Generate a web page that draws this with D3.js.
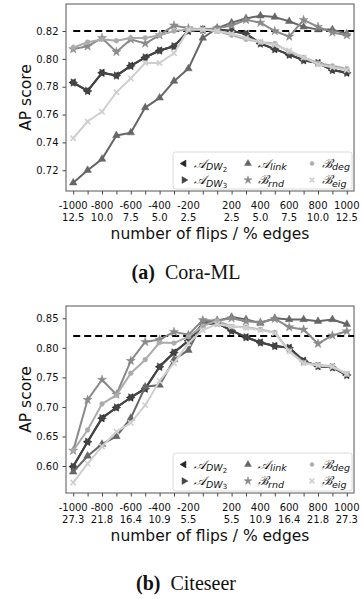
<!DOCTYPE html>
<html>
<head>
<meta charset="utf-8">
<script src="https://cdn.jsdelivr.net/npm/d3@7"></script>
<style>
body { margin: 0; background: #fff; }
text { font-family: "DejaVu Sans", sans-serif; fill: #111; }
</style>
</head>
<body>
<div id="chart-area"></div>
<script>
// x positions: number of flips (negative = removed, positive = added)
var flips = [-1000, -900, -800, -700, -600, -500, -400, -300, -200, -100,
             100, 200, 300, 400, 500, 600, 700, 800, 900, 1000];
var labelFlips = [-1000, -800, -600, -400, -200, 200, 400, 600, 800, 1000];
var coraPct = ["12.5", "10.0", "7.5", "5.0", "2.5", "2.5", "5.0", "7.5", "10.0", "12.5"];
var citePct = ["27.3", "21.8", "16.4", "10.9", "5.5", "5.5", "10.9", "16.4", "21.8", "27.3"];

var coraYTicks = [0.72, 0.74, 0.76, 0.78, 0.80, 0.82];
var citeYTicks = [0.60, 0.65, 0.70, 0.75, 0.80, 0.85];

// Cora-ML
var coraDW2  = [0.783, 0.777, 0.790, 0.788, 0.795, 0.801, 0.806, 0.809, 0.820, 0.821,
                0.821, 0.820, 0.818, 0.811, 0.807, 0.803, 0.799, 0.797, 0.792, 0.790];
var coraDW3  = [0.783, 0.777, 0.790, 0.788, 0.795, 0.801, 0.806, 0.809, 0.820, 0.821,
                0.821, 0.820, 0.818, 0.811, 0.807, 0.803, 0.799, 0.797, 0.792, 0.790];
var coraLink = [0.711, 0.720, 0.728, 0.745, 0.747, 0.765, 0.772, 0.784, 0.793, 0.815,
                0.822, 0.826, 0.829, 0.831, 0.830, 0.827, 0.823, 0.821, 0.821, 0.818];
var coraRnd  = [0.807, 0.809, 0.815, 0.805, 0.814, 0.811, 0.817, 0.824, 0.822, 0.821,
                0.822, 0.824, 0.828, 0.826, 0.820, 0.816, 0.828, 0.823, 0.819, 0.817];
var coraDeg  = [0.808, 0.812, 0.814, 0.813, 0.815, 0.815, 0.817, 0.820, 0.821, 0.821,
                0.820, 0.817, 0.814, 0.812, 0.811, 0.805, 0.801, 0.797, 0.795, 0.793];
var coraEig  = [0.743, 0.755, 0.762, 0.776, 0.786, 0.797, 0.797, 0.804, 0.821, 0.821,
                0.820, 0.818, 0.815, 0.812, 0.810, 0.806, 0.801, 0.796, 0.794, 0.792];

// Citeseer
var citeDW2  = [0.599, 0.641, 0.681, 0.699, 0.716, 0.731, 0.768, 0.792, 0.812, 0.840,
                0.842, 0.829, 0.818, 0.809, 0.803, 0.800, 0.778, 0.769, 0.767, 0.754];
var citeDW3  = [0.599, 0.641, 0.681, 0.699, 0.716, 0.731, 0.768, 0.792, 0.812, 0.840,
                0.842, 0.829, 0.818, 0.809, 0.803, 0.800, 0.778, 0.769, 0.767, 0.754];
var citeLink = [0.590, 0.617, 0.637, 0.650, 0.681, 0.734, 0.737, 0.780, 0.796, 0.843,
                0.846, 0.852, 0.848, 0.842, 0.850, 0.848, 0.848, 0.845, 0.848, 0.840];
var citeRnd  = [0.626, 0.712, 0.746, 0.721, 0.778, 0.810, 0.814, 0.827, 0.822, 0.847,
                0.846, 0.850, 0.845, 0.843, 0.849, 0.835, 0.831, 0.807, 0.821, 0.828];
var citeDeg  = [0.626, 0.661, 0.705, 0.720, 0.757, 0.780, 0.809, 0.808, 0.819, 0.837,
                0.846, 0.836, 0.835, 0.831, 0.826, 0.795, 0.775, 0.771, 0.769, 0.755];
var citeEig  = [0.572, 0.604, 0.633, 0.658, 0.673, 0.703, 0.744, 0.774, 0.808, 0.830,
                0.840, 0.836, 0.834, 0.830, 0.825, 0.794, 0.774, 0.770, 0.768, 0.756];

var baseline = 0.82;

var methods = [
    {key: "DW2",  letter: "\u{1D49C}", sub: "DW", sub2: "2", color: "#262626", marker: "left"},
    {key: "DW3",  letter: "\u{1D49C}", sub: "DW", sub2: "3", color: "#454545", marker: "right"},
    {key: "link", letter: "\u{1D49C}", sub: "link", color: "#666666", marker: "up"},
    {key: "rnd",  letter: "\u212C", sub: "rnd", color: "#8a8a8a", marker: "star"},
    {key: "deg",  letter: "\u212C", sub: "deg", color: "#ababab", marker: "circle"},
    {key: "eig",  letter: "\u212C", sub: "eig", color: "#cfcfcf", marker: "x"}
];

var panels = [
    {top: 4, bottom: 191, yDomain: [0.7051, 0.8394], yTicks: coraYTicks, pct: coraPct,
     series: [coraDW2, coraDW3, coraLink, coraRnd, coraDeg, coraEig],
     tag: "(a)", name: "Cora-ML", captionY: 278.5, legendTop: 152},
    {top: 306, bottom: 493, yDomain: [0.5543, 0.8708], yTicks: citeYTicks, pct: citePct,
     series: [citeDW2, citeDW3, citeLink, citeRnd, citeDeg, citeEig],
     tag: "(b)", name: "Citeseer", captionY: 589.5, legendTop: 453}
];

var left = 66, right = 354;
var width = 362, height = 599;

var svg = d3.select("#chart-area").append("svg")
    .attr("width", width)
    .attr("height", height);

function markerPath(type, size) {
    var sym = d3.symbol().size(size);
    if (type == "left" || type == "right" || type == "up") return sym.type(d3.symbolTriangle)();
    if (type == "star") return sym.type(d3.symbolStar)();
    if (type == "circle") return sym.type(d3.symbolCircle)();
    return sym.type(d3.symbolTimes)();
}
function markerRotate(type) {
    if (type == "left") return -90;
    if (type == "right") return 90;
    return 0;
}
function addMarker(g, m, cx, cy, size) {
    var p = g.append("path")
        .attr("d", markerPath(m.marker, size))
        .attr("transform", "translate(" + cx + "," + cy + ") rotate(" + markerRotate(m.marker) + ")");
    if (m.marker == "x") {
        p.attr("fill", "none").attr("stroke", m.color).attr("stroke-width", 1.6);
    } else {
        p.attr("fill", m.color).attr("stroke", m.color).attr("stroke-width", 0.5);
    }
}

panels.forEach(function(pn) {
    var x = d3.scalePoint()
        .domain(flips)
        .range([left, right])
        .padding(0.5);

    var y = d3.scaleLinear()
        .domain(pn.yDomain)
        .range([pn.bottom, pn.top]);

    var g = svg.append("g");

    // x axis: a tick at every point, labels on every second one
    var bottomAxis = d3.axisBottom(x).tickSize(3.5).tickFormat("");
    var xg = g.append("g")
        .attr("transform", "translate(0," + pn.bottom + ")")
        .call(bottomAxis);
    xg.select(".domain").remove();
    xg.selectAll(".tick line").attr("stroke", "#444");

    labelFlips.forEach(function(f, i) {
        var t = g.append("text")
            .attr("text-anchor", "middle")
            .attr("font-size", "10px")
            .attr("x", x(f));
        t.append("tspan").attr("x", x(f)).attr("y", pn.bottom + 17.5).text(f);
        t.append("tspan").attr("x", x(f)).attr("y", pn.bottom + 30).text(pn.pct[i]);
    });

    var leftAxis = d3.axisLeft(y)
        .tickValues(pn.yTicks)
        .tickSize(3.5)
        .tickFormat(d3.format(".2f"));
    var yg = g.append("g")
        .attr("transform", "translate(" + left + ",0)")
        .call(leftAxis);
    yg.select(".domain").remove();
    yg.selectAll(".tick line").attr("stroke", "#444");
    yg.selectAll("text")
        .attr("font-size", "10px")
        .attr("font-family", "DejaVu Sans")
        .attr("fill", "#111")
        .attr("dx", "-1px");

    // frame
    g.append("rect")
        .attr("x", left)
        .attr("y", pn.top)
        .attr("width", right - left)
        .attr("height", pn.bottom - pn.top)
        .attr("fill", "none")
        .attr("stroke", "#555")
        .attr("stroke-width", 1);

    // baseline dashed line
    g.append("line")
        .attr("x1", x(flips[0]))
        .attr("x2", right)
        .attr("y1", y(baseline))
        .attr("y2", y(baseline))
        .attr("stroke", "#000")
        .attr("stroke-width", 2)
        .attr("stroke-dasharray", "7,4");

    var line = d3.line()
        .x(function(d, i) { return x(flips[i]); })
        .y(function(d) { return y(d); });

    methods.forEach(function(m, k) {
        var vals = pn.series[k];
        g.append("path")
            .attr("d", line(vals))
            .attr("fill", "none")
            .attr("stroke", m.color)
            .attr("stroke-width", 2)
            .attr("stroke-linejoin", "round");
        var mg = g.append("g");
        vals.forEach(function(v, i) {
            addMarker(mg, m, x(flips[i]), y(v), m.marker == "circle" ? 18 : (m.marker == "x" ? 20 : 25));
        });
    });

    // legend
    var lg = g.append("g");
    lg.append("rect")
        .attr("x", 173)
        .attr("y", pn.legendTop)
        .attr("width", 179)
        .attr("height", pn.bottom - 2 - pn.legendTop)
        .attr("rx", 2.5)
        .attr("fill", "#fff")
        .attr("fill-opacity", 0.85)
        .attr("stroke", "#d0d0d0")
        .attr("stroke-width", 0.8);

    var colX = [184, 248, 312];
    var rowY = [pn.legendTop + 11.5, pn.legendTop + 28];
    methods.forEach(function(m, k) {
        var cx = colX[Math.floor(k / 2)];
        var cy = rowY[k % 2];
        addMarker(lg, m, cx, cy, m.marker == "circle" ? 12 : (m.marker == "x" ? 16 : 20));
        var t = lg.append("text")
            .attr("x", cx + 10)
            .attr("y", cy + 4)
            .attr("font-size", "12.5px");
        t.append("tspan")
            .attr("font-family", "'DejaVu Serif', serif")
            .attr("font-style", "italic")
            .text(m.letter);
        t.append("tspan")
            .attr("font-size", "9.5px")
            .attr("font-style", "italic")
            .attr("dy", 2.5)
            .text(m.sub);
        if (m.sub2) {
            t.append("tspan")
                .attr("font-size", "7px")
                .attr("dy", 1.5)
                .text(m.sub2);
        }
    });

    // axis labels
    g.append("text")
        .attr("x", -(pn.top + pn.bottom) / 2)
        .attr("y", 31)
        .attr("transform", "rotate(-90)")
        .attr("text-anchor", "middle")
        .attr("font-size", "15.5px")
        .text("AP score");

    g.append("text")
        .attr("x", (left + right) / 2)
        .attr("y", pn.bottom + 47.5)
        .attr("text-anchor", "middle")
        .attr("font-size", "15.5px")
        .text("number of flips / % edges");

    // caption
    var cap = g.append("text")
        .attr("x", 186)
        .attr("y", pn.captionY)
        .attr("text-anchor", "middle")
        .attr("font-size", "20px");
    cap.append("tspan")
        .attr("font-family", "'Liberation Serif', serif")
        .attr("font-weight", "bold")
        .text(pn.tag);
    cap.append("tspan")
        .attr("font-family", "'Liberation Serif', serif")
        .text("\u2002" + pn.name);
});
</script>
</body>
</html>
